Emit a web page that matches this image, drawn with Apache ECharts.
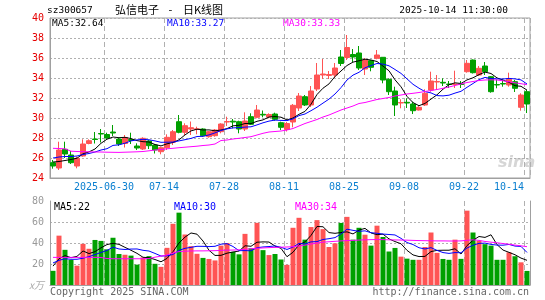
<!DOCTYPE html>
<html><head><meta charset="utf-8">
<script src="https://cdn.jsdelivr.net/npm/echarts@6/dist/echarts.min.js"></script>
<style>html,body{margin:0;padding:0;background:#fff}#c{width:545px;height:300px}</style>
</head><body><div id="c"></div>
<script>
const dates = ['2025-06-17','2025-06-18','2025-06-19','2025-06-20','2025-06-23','2025-06-24','2025-06-25','2025-06-26','2025-06-27','2025-06-30',
'2025-07-01','2025-07-02','2025-07-03','2025-07-04','2025-07-07','2025-07-08','2025-07-09','2025-07-10','2025-07-11','2025-07-14',
'2025-07-15','2025-07-16','2025-07-17','2025-07-18','2025-07-21','2025-07-22','2025-07-23','2025-07-24','2025-07-25','2025-07-28',
'2025-07-29','2025-07-30','2025-07-31','2025-08-01','2025-08-04','2025-08-05','2025-08-06','2025-08-07','2025-08-08','2025-08-11',
'2025-08-12','2025-08-13','2025-08-14','2025-08-15','2025-08-18','2025-08-19','2025-08-20','2025-08-21','2025-08-22','2025-08-25',
'2025-08-26','2025-08-27','2025-08-28','2025-08-29','2025-09-01','2025-09-02','2025-09-03','2025-09-04','2025-09-05','2025-09-08',
'2025-09-09','2025-09-10','2025-09-11','2025-09-12','2025-09-15','2025-09-16','2025-09-17','2025-09-18','2025-09-19','2025-09-22',
'2025-09-23','2025-09-24','2025-09-25','2025-09-26','2025-09-29','2025-09-30','2025-10-09','2025-10-10','2025-10-13','2025-10-14'];

const tickDates = ['2025-06-30','2025-07-14','2025-07-28','2025-08-11','2025-08-25','2025-09-08','2025-09-22','2025-10-14'];

const open = [25.53,25.0,26.87,26.3,25.2,26.2,27.45,27.9,28.45,28.35, 28.6,27.9,27.45,27.85,27.2,26.9,27.7,27.3,26.63,27.03,
27.57,29.63,28.57,28.9,28.85,28.9,28.13,28.23,28.63,29.6, 29.68,29.63,28.9,30.13,30.07,30.37,30.1,30.4,29.53,28.85,
29.6,31.0,32.13,31.3,32.9,34.3,34.25,34.3,36.1,36.05, 36.35,36.5,34.9,35.73,35.97,36.07,33.87,32.7,31.5,31.57,
31.4,30.8,31.3,32.8,33.6,33.57,33.4,33.35,33.4,34.63, 35.8,34.3,35.2,34.13,33.35,33.45,33.3,33.63,31.07,32.63];
const close = [25.2,26.8,26.4,25.53,25.97,27.4,27.73,27.85,28.4,28.0, 28.5,27.4,28.05,27.75,27.0,27.97,27.23,26.8,27.03,28.07,
28.63,28.57,29.23,29.03,28.92,28.23,28.63,28.8,29.4,29.65, 29.6,28.9,29.7,29.37,30.8,30.3,30.35,29.87,29.07,29.45,
31.27,32.2,31.3,32.7,34.3,34.4,34.35,35.0,35.45,37.05, 36.1,35.0,35.8,35.07,36.3,33.8,32.63,31.3,31.55,31.5,
30.73,31.07,32.47,33.7,33.65,33.5,33.35,33.4,33.35,35.47, 34.53,34.97,34.63,32.63,33.3,33.4,33.87,32.97,32.3,31.4];
const low = [24.93,24.8,26.0,25.4,24.97,26.13,27.37,27.45,27.55,27.93, 28.2,27.2,27.05,27.4,26.8,26.8,26.9,26.45,26.37,26.8,
27.3,28.47,28.3,28.3,28.37,28.13,28.03,28.13,28.47,29.2, 28.97,28.47,28.7,29.3,29.97,30.07,29.97,29.73,28.8,28.65,
29.07,30.7,31.2,31.1,32.7,33.9,33.9,34.0,35.2,35.8, 35.6,34.8,34.3,34.67,35.87,33.47,32.3,30.2,30.97,31.0,
30.4,30.75,31.2,32.63,32.8,33.2,33.0,33.0,33.0,34.53, 34.45,34.2,34.3,32.53,32.97,33.13,33.13,32.6,30.73,30.5];
const high = [25.8,27.63,27.63,26.7,26.13,27.87,27.87,28.6,28.9,28.53, 29.3,28.0,28.3,28.53,27.47,28.07,27.8,27.4,27.13,28.37,
28.8,30.3,29.47,29.65,29.13,28.97,28.7,28.9,29.47,30.13, 29.9,29.73,30.57,30.47,31.3,30.75,30.47,30.53,29.63,29.6,
31.4,32.5,32.3,33.2,35.5,35.9,34.7,35.5,36.8,38.3, 36.9,37.2,36.0,35.8,36.8,36.07,33.97,33.13,31.87,31.97,
31.63,31.2,32.87,34.63,34.3,33.97,33.7,34.73,33.7,35.8, 35.85,35.2,35.6,34.2,33.85,33.87,34.53,33.8,32.47,32.8];

const ma5 = [25.6,25.65,25.75,25.85,25.98,26.42,26.61,26.9,27.47,27.88, 28.1,28.03,28.07,27.94,27.74,27.63,27.6,27.35,27.21,27.42,
27.55,27.82,28.31,28.71,28.88,28.8,28.81,28.72,28.8,28.94, 29.22,29.27,29.45,29.44,29.67,29.81,30.1,30.14,30.08,29.81,
30.0,30.37,30.66,31.38,32.35,32.98,33.41,34.15,34.7,35.25, 35.59,35.72,35.88,35.8,35.65,35.19,34.72,33.82,33.12,32.16,
31.54,31.23,31.46,31.89,32.32,32.88,33.33,33.52,33.45,33.81, 34.02,34.34,34.59,34.45,34.01,33.79,33.57,33.23,33.17,32.79];
const ma10 = [26.0,26.1,26.15,26.15,26.2,26.35,26.45,26.6,26.8,26.93, 27.26,27.32,27.48,27.71,27.81,27.87,27.82,27.71,27.57,27.58,
27.59,27.71,27.83,27.96,28.15,28.17,28.31,28.51,28.75,28.91, 29.01,29.04,29.09,29.12,29.31,29.52,29.69,29.79,29.76,29.74,
29.91,30.24,30.4,30.73,31.08,31.49,31.89,32.4,33.04,33.8, 34.29,34.57,35.02,35.25,35.45,35.39,35.22,34.85,34.46,33.91,
33.37,32.98,32.64,32.51,32.24,32.21,32.28,32.49,32.67,33.07, 33.45,33.84,34.06,33.95,33.91,33.9,33.96,33.91,33.81,33.4];
const ma30 = [26.97,26.95,26.92,26.68,26.65,26.63,26.62,26.6,26.6,26.58, 26.57,26.56,26.58,26.6,26.62,26.65,26.72,26.8,26.85,26.92,
26.97,27.03,27.08,27.13,27.18,27.25,27.3,27.4,27.75,27.8, 27.9,27.97,28.05,28.13,28.3,28.47,28.6,28.65,28.7,28.8,
28.95,29.2,29.45,29.65,29.85,30.1,30.3,30.55,30.8,31.0, 31.2,31.45,31.55,31.7,31.85,31.95,32.05,32.2,32.3,32.4,
32.47,32.55,32.65,32.75,32.85,32.97,33.1,33.25,33.4,33.55, 33.65,33.75,33.8,33.82,33.8,33.72,33.62,33.52,33.43,33.33];

const volume = [13.5,47,33.5,24,18.4,39.2,34.5,42.9,42,34, 45,29.5,28.8,28,19.4,26.3,27.5,20.2,17.3,35.4,
58.3,68.9,48.1,37,29.7,25.8,24.8,23.4,37.5,40, 31.5,29.2,48.7,35,59.2,33.2,28.5,29.5,24.3,19.2,
54.5,64,43.2,55.2,61.8,53.2,36.2,39.7,59.1,64.9, 43.2,54.5,47.9,37.5,56.5,45.7,31.9,35.3,27,25.1,
24,24,36.2,50,30.6,24.8,24,43.2,24.9,70.8, 50,42,38.9,37.5,24,24,31.1,27.4,21.6,13.4];
const volMa5 = [18,25,28,26,27.28,32.42,29.92,31.8,35.4,38.52, 39.68,38.68,35.86,33.06,30.14,26.4,26,24.28,22.14,25.34,
31.74,40.02,45.6,49.54,48.4,41.9,33.08,28.14,28.24,30.3, 31.44,32.32,37.38,36.88,40.72,41.06,40.92,37.08,34.94,26.94,
31.2,38.3,41.04,47.22,55.74,55.48,49.92,49.22,50,50.62, 48.62,52.28,53.92,49.6,47.92,48.42,43.9,41.38,39.28,33,
28.66,27.08,27.26,31.86,32.96,33.12,33.12,34.52,29.5,37.54, 42.58,46.18,45.32,47.84,38.48,33.28,31.1,28.8,25.62,23.5];
const volMa10 = [21,23.5,25,24.5,24.5,25.5,27,29,31,32.9, 36.05,34.3,33.83,34.23,34.33,33.04,32.34,30.07,27.6,27.74,
29.07,33.01,34.94,35.84,36.87,36.82,36.55,36.87,38.89,39.35, 36.67,32.7,32.76,32.56,35.51,36.25,36.62,37.23,35.91,33.83,
36.13,39.61,39.06,41.08,41.34,43.34,44.11,45.13,48.61,53.18, 52.05,51.1,51.57,49.8,49.27,48.52,48.09,47.65,44.44,40.46,
38.54,35.49,34.32,35.57,32.98,30.89,30.1,30.89,30.68,35.25, 37.85,39.65,39.92,38.67,38.01,37.93,38.64,37.06,36.73,30.99];
const volMa30 = [26.3,26.3,26.3,26.3,26.3,26.3,26.3,26.3,26.2,25.2, 25,25,25,25,25,25,25.2,26.5,27.5,28.6,
30.5,31.8,32.2,32.4,32.5,32.5,32.6,32.7,33,33.2, 33.3,33.5,34,34.5,35,35.3,35.6,35.8,36,36.2,
36.5,37.2,38,39,40,40.8,41.2,41.6,42,42.3, 42.5,42.8,43,43.2,43.3,43.2,43,42.9,42.8,42.7,
42.5,42.3,42.2,42.1,42,42,41.9,41.9,42,42.6, 43,42.5,41.5,40.8,40.2,39.5,38.8,38,37.3,36.5];

const priceTicks = [24,26,28,30,32,34,36,38,40];
const volTicks = [0,20,40,60,80];
const mainMaLabels = ['MA5:32.64','MA10:33.27','MA30:33.33'];
const volMaLabels = ['MA5:22','MA10:30','MA30:34'];
const header = {code:'sz300657', name:'弘信电子', dash:'-', kind:'日K线图', time:'2025-10-14 11:30:00'};
const footer = {left:'Copyright 2025 SINA.COM', right:'http://finance.sina.com.cn'};

const UP = '#ff5454', DOWN = '#00a000';
const MONO = 'DejaVu Sans Mono';
const CJK = '"Noto Sans CJK SC"';
const BORDER = '#a0a0a0', GRIDC = '#b0b0b0';
const isTick = (i) => tickDates.indexOf(dates[i]) >= 0;

const kData = dates.map((d, i) => [open[i], close[i], low[i], high[i]]);
const vData = volume.map((v, i) => ({value: v, itemStyle: {color: close[i] >= open[i] ? UP : DOWN}}));

const chart = echarts.init(document.getElementById('c'), null, {renderer: 'canvas'});
const vSplit = {show: true, interval: (i) => isTick(i), lineStyle: {color: GRIDC, type: [5, 3], width: 1}};
const lineS = (name, data, color, xi, yi) => ({
  name, type: 'line', data, xAxisIndex: xi, yAxisIndex: yi, symbol: 'none', silent: true,
  lineStyle: {color, width: 1}, z: 5
});
const txt = (x, y, text, fill, font, align) => ({type: 'text', x, y, silent: true,
  style: {text, fill, font, align: align || 'left', verticalAlign: 'middle'}});

chart.setOption({
  animation: false,
  grid: [
    {left: 50, top: 18, width: 480, height: 160, show: true, borderColor: BORDER, borderWidth: 1, backgroundColor: 'transparent'},
    {left: 50, top: 201, width: 480, height: 84}
  ],
  xAxis: [
    {type: 'category', gridIndex: 0, data: dates, boundaryGap: true,
      axisLine: {show: true, lineStyle: {color: BORDER}}, axisTick: {show: false},
      axisLabel: {interval: (i) => isTick(i), margin: 4, color: '#0a7fd0', fontFamily: MONO, fontSize: 10,
        formatter: (v) => {
          const t = v === tickDates[0] ? v : v.slice(5);
          return '{' + (v === dates[dates.length - 1] ? 'e' : 'n') + '|' + t + '}';
        },
        rich: {
          n: {padding: [0, 6, 0, 0], color: '#0a7fd0', fontFamily: MONO, fontSize: 10},
          e: {padding: [0, 36, 0, 0], color: '#0a7fd0', fontFamily: MONO, fontSize: 10}
        }},
      splitLine: vSplit},
    {type: 'category', gridIndex: 1, data: dates, boundaryGap: true, position: 'top',
      axisLine: {show: true, lineStyle: {color: BORDER}}, axisTick: {show: false}, axisLabel: {show: false},
      splitLine: vSplit}
  ],
  yAxis: [
    {type: 'value', gridIndex: 0, min: priceTicks[0], max: priceTicks[priceTicks.length - 1], interval: 2,
      axisLine: {show: true, lineStyle: {color: BORDER}}, axisTick: {show: false},
      axisLabel: {color: '#e60000', fontFamily: MONO, fontSize: 10, margin: 6},
      splitLine: {show: true, lineStyle: {color: GRIDC, type: [2, 2], width: 1}}},
    {type: 'value', gridIndex: 1, min: volTicks[0], max: volTicks[volTicks.length - 1], interval: 20,
      axisLine: {show: true, lineStyle: {color: BORDER}}, axisTick: {show: false},
      axisLabel: {color: '#999', fontFamily: MONO, fontSize: 10, margin: 6,
        formatter: (v) => v === 0 ? '{u|x万}' : String(v),
        rich: {u: {color: '#aaa', fontSize: 10, fontStyle: 'italic', fontFamily: 'Noto Sans CJK SC'}}},
      splitLine: {show: true, lineStyle: {color: ['transparent', GRIDC, GRIDC, GRIDC, 'transparent'], type: [2, 2], width: 1}}},
    {type: 'value', gridIndex: 1, position: 'right', min: 0, max: 80,
      axisLine: {show: true, lineStyle: {color: BORDER}}, axisTick: {show: false}, axisLabel: {show: false}, splitLine: {show: false}}
  ],
  series: [
    {type: 'candlestick', xAxisIndex: 0, yAxisIndex: 0, data: kData, barWidth: 5, silent: true, z: 3,
      itemStyle: {color: UP, color0: DOWN, borderColor: UP, borderColor0: DOWN, borderWidth: 1}},
    lineS('MA5', ma5, '#000000', 0, 0),
    lineS('MA10', ma10, '#0000ff', 0, 0),
    lineS('MA30', ma30, '#ff00ff', 0, 0),
    {type: 'bar', xAxisIndex: 1, yAxisIndex: 1, data: vData, barWidth: 5, silent: true, z: 3},
    lineS('VMA5', volMa5, '#000000', 1, 1),
    lineS('VMA10', volMa10, '#0000ff', 1, 1),
    lineS('VMA30', volMa30, '#ff00ff', 1, 1)
  ],
  graphic: [
    txt(47, 11, header.code, '#000', '9.5px ' + MONO),
    txt(115, 10, header.name, '#000', '11px ' + CJK),
    txt(170.5, 10, header.dash, '#000', '11px ' + CJK, 'center'),
    txt(183, 10, header.kind, '#000', '11px ' + CJK),
    txt(508, 11, header.time, '#000', '9.5px ' + MONO, 'right'),
    txt(52, 24, mainMaLabels[0], '#000', '9.5px ' + MONO),
    txt(167, 24, mainMaLabels[1], '#0000ff', '9.5px ' + MONO),
    txt(283, 24, mainMaLabels[2], '#ff00ff', '9.5px ' + MONO),
    txt(54, 207, volMaLabels[0], '#000', '10px ' + MONO),
    txt(174, 207, volMaLabels[1], '#0000ff', '10px ' + MONO),
    txt(295, 207, volMaLabels[2], '#ff00ff', '10px ' + MONO),
    txt(50, 292, footer.left, '#666', '10px ' + MONO),
    txt(529, 292, footer.right, '#666', '10px ' + MONO, 'right'),
    txt(498, 163, 'sina', '#d6d6d6', 'italic bold 16px "DejaVu Sans"')
  ]
});
</script>
</body></html>
